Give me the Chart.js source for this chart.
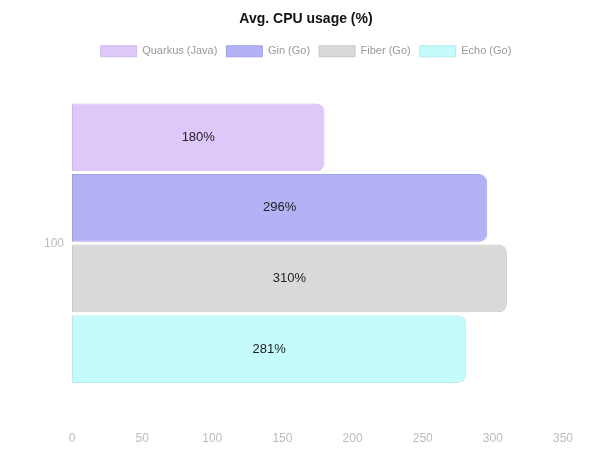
<!DOCTYPE html>
<html>
<head>
<meta charset="utf-8">
<script src="https://cdn.jsdelivr.net/npm/chart.js@4/dist/chart.umd.min.js"></script>
<style>
html,body{margin:0;padding:0;background:#fff;}
#wrap{width:612px;height:450px;}
</style>
</head>
<body>
<div id="wrap"><canvas id="c" width="612" height="450"></canvas></div>
<script>
const categories = ['100'];
const seriesNames = ['Quarkus (Java)', 'Gin (Go)', 'Fiber (Go)', 'Echo (Go)'];
const quarkus = [180];
const gin = [296];
const fiber = [310];
const echo = [281];
const xTicks = [0, 50, 100, 150, 200, 250, 300, 350];

const fills = ['rgba(222,200,250,1)', 'rgba(178,178,245,1)', 'rgba(217,217,217,1)', 'rgba(198,251,251,1)'];
const borders = ['rgba(208,184,240,1)', 'rgba(160,160,236,1)', 'rgba(200,200,200,1)', 'rgba(178,236,236,1)'];
const seriesValues = [quarkus, gin, fiber, echo];

const labelPlugin = {
  id: 'barLabels',
  afterDatasetsDraw(chart) {
    const ctx = chart.ctx;
    ctx.save();
    ctx.font = '13px "Liberation Sans", Arial, sans-serif';
    ctx.fillStyle = '#222';
    ctx.textAlign = 'center';
    ctx.textBaseline = 'middle';
    chart.data.datasets.forEach((ds, i) => {
      const meta = chart.getDatasetMeta(i);
      meta.data.forEach((bar, j) => {
        const x = (bar.x + bar.base) / 2;
        ctx.fillText(ds.data[j] + '%', x, bar.y);
      });
    });
    ctx.restore();
  }
};

new Chart(document.getElementById('c'), {
  type: 'bar',
  data: {
    labels: categories,
    datasets: seriesNames.map((n, i) => ({
      label: n,
      data: seriesValues[i],
      backgroundColor: fills[i],
      borderColor: borders[i],
      borderWidth: 1,
      borderSkipped: false,
      borderRadius: {topLeft: 0, bottomLeft: 0, topRight: 8, bottomRight: 8},
      barPercentage: 0.96,
      categoryPercentage: 0.8
    }))
  },
  options: {
    indexAxis: 'y',
    responsive: false,
    animation: false,
    layout: {padding: {left: 0, right: 0, top: 0, bottom: -8}},
    plugins: {
      title: {
        display: true,
        text: 'Avg. CPU usage (%)',
        color: '#111',
        font: {family: '"Liberation Sans", Arial, sans-serif', size: 14, weight: 'bold'},
        padding: {top: 11, bottom: 9}
      },
      legend: {
        display: true,
        labels: {
          color: '#999',
          boxWidth: 36,
          boxHeight: 11,
          font: {family: '"Liberation Sans", Arial, sans-serif', size: 11},
          padding: 9
        }
      },
      tooltip: {enabled: false}
    },
    scales: {
      x: {
        min: 0, max: 350,
        afterBuildTicks(axis) { axis.ticks = xTicks.map(v => ({value: v})); },
        afterFit(axis) { axis.paddingRight = 49; },
        grid: {display: false, drawTicks: false},
        border: {display: false},
        ticks: {color: '#bbb', font: {family: '"Liberation Sans", Arial, sans-serif', size: 12}, padding: 12}
      },
      y: {
        afterFit(axis) { axis.width = 72; },
        grid: {display: false, drawTicks: false},
        border: {display: false},
        ticks: {color: '#bbb', font: {family: '"Liberation Sans", Arial, sans-serif', size: 12}, padding: 8}
      }
    }
  },
  plugins: [labelPlugin]
});
</script>
</body>
</html>
